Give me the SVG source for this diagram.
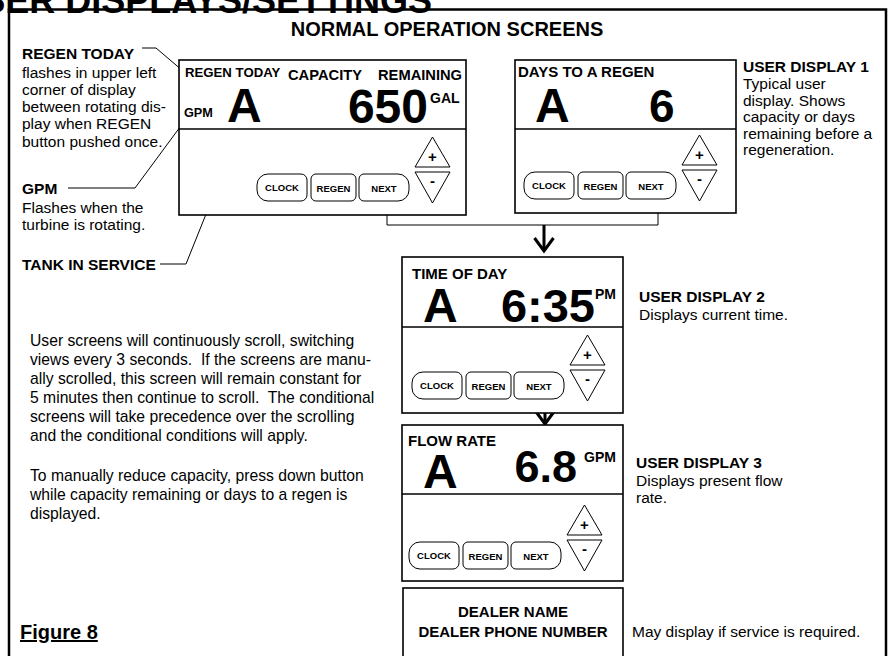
<svg xmlns="http://www.w3.org/2000/svg" width="892" height="656" viewBox="0 0 892 656">
<defs>
<style>
text{font-family:"Liberation Sans",Arial,Helvetica,sans-serif;fill:#000}
.b{font-weight:bold}
.t{font-size:15.5px}
.p{font-size:15.7px;white-space:pre}
.scr{fill:#fff;stroke:#000;stroke-width:1.6}
.btn{fill:#fff;stroke:#000;stroke-width:1}
.bt{font-size:9.5px;font-weight:bold;text-anchor:middle}
.pm{font-size:15px;font-weight:bold;text-anchor:middle}
.big{font-size:48px;font-weight:bold}
.lbl{font-size:15px;font-weight:bold}
.lead{fill:none;stroke:#000;stroke-width:1}
.conn{fill:none;stroke:#000;stroke-width:1}
.arr{fill:none;stroke:#000;stroke-width:3}
</style>
<marker id="chev" markerUnits="userSpaceOnUse" markerWidth="30" markerHeight="30" refX="0" refY="0" orient="auto" overflow="visible">
<path d="M-13,-9.5 L0,0 L-13,9.5" fill="none" stroke="#000" stroke-width="3"/>
</marker>
</defs>
<rect width="892" height="656" fill="#fff"/>
<text x="432" y="13" class="b" font-size="36" text-anchor="end">USER DISPLAYS/SETTINGS</text>
<rect x="9" y="9.5" width="877" height="700" fill="none" stroke="#000" stroke-width="2.5"/>
<text x="447" y="36" class="b" font-size="20" text-anchor="middle">NORMAL OPERATION SCREENS</text>

<g id="note-regen-today">
<text x="22" y="59" class="b t">REGEN TODAY</text>
<text x="22" y="77.5" class="t">flashes in upper left</text>
<text x="22" y="94.5" class="t">corner of display</text>
<text x="22" y="112" class="t">between rotating dis-</text>
<text x="22" y="129" class="t">play when REGEN</text>
<text x="22" y="146.5" class="t">button pushed once.</text>
</g>
<g id="note-gpm">
<text x="22" y="194" class="b t">GPM</text>
<text x="22" y="213" class="t">Flashes when the</text>
<text x="22" y="230" class="t">turbine is rotating.</text>
</g>
<g id="note-tank">
<text x="22" y="270" class="b t">TANK IN SERVICE</text>
</g>
<g id="note-scroll">
<text x="30" y="346" class="p">User screens will continuously scroll, switching</text>
<text x="30" y="365" class="p">views every 3 seconds.  If the screens are manu-</text>
<text x="30" y="384" class="p">ally scrolled, this screen will remain constant for</text>
<text x="30" y="403" class="p">5 minutes then continue to scroll.  The conditional</text>
<text x="30" y="422" class="p">screens will take precedence over the scrolling</text>
<text x="30" y="441" class="p">and the conditional conditions will apply.</text>
<text x="30" y="481" class="p">To manually reduce capacity, press down button</text>
<text x="30" y="500" class="p">while capacity remaining or days to a regen is</text>
<text x="30" y="519" class="p">displayed.</text>
</g>
<text x="20" y="639" class="b" font-size="20" text-decoration="underline">Figure 8</text>

<g id="leaders">
<polyline class="lead" points="142,48 156,48 183,71"/>
<polyline class="lead" points="68,188 135,188 183,123"/>
<polyline class="lead" points="160,264 186,264 239,132"/>
</g>

<g id="connectors">
<polyline class="conn" points="387,201 387,225 658,225 658,199"/>
<line class="arr" x1="544" y1="225" x2="544" y2="251" marker-end="url(#chev)"/>
<line class="arr" x1="545" y1="398" x2="545" y2="424" marker-end="url(#chev)"/>
</g>

<g id="screen-capacity">
<rect class="scr" x="179" y="60" width="287" height="155"/>
<line class="scr" x1="179" y1="129" x2="466" y2="129"/>
<text x="185" y="77" class="b" font-size="13.2">REGEN TODAY</text>
<text x="288" y="80" class="b" font-size="14.7">CAPACITY</text>
<text x="378" y="80" class="b" font-size="14.7">REMAINING</text>
<text x="184" y="117" class="b" font-size="12.7">GPM</text>
<text x="227" y="122" class="big">A</text>
<text x="428" y="123" class="b" font-size="48" text-anchor="end">650</text>
<text x="430" y="103" class="b" font-size="14">GAL</text>
<g transform="translate(257,174)">
<path class="btn" d="M11,0 H44 A6,6 0 0 1 50,6 V21 A6,6 0 0 1 44,27 H11 A11,11 0 0 1 0,16 V11 A11,11 0 0 1 11,0 Z"/>
<rect class="btn" x="54" y="0" width="45" height="27" rx="5"/>
<path class="btn" d="M107,0 H141 A11,11 0 0 1 152,11 V16 A11,11 0 0 1 141,27 H107 A5,5 0 0 1 102,22 V5 A5,5 0 0 1 107,0 Z"/>
<text x="25" y="17" class="bt">CLOCK</text>
<text x="76.5" y="18" class="bt">REGEN</text>
<text x="127" y="18" class="bt">NEXT</text>
<path class="btn" d="M175.5,-37 L193,-7 L158,-7 Z"/>
<path class="btn" d="M158,-2 L193,-2 L175.5,29 Z"/>
<text x="175.5" y="-12" class="pm">+</text>
<text x="175.5" y="12" class="pm">-</text>
</g>
</g>

<g id="screen-days">
<rect class="scr" x="515" y="60" width="221" height="153"/>
<line class="scr" x1="515" y1="129" x2="736" y2="129"/>
<text x="518" y="77" class="lbl">DAYS TO A REGEN</text>
<text x="535" y="122" class="big">A</text>
<text x="649" y="122" class="b" font-size="46">6</text>
<g transform="translate(524,172)">
<path class="btn" d="M11,0 H44 A6,6 0 0 1 50,6 V21 A6,6 0 0 1 44,27 H11 A11,11 0 0 1 0,16 V11 A11,11 0 0 1 11,0 Z"/>
<rect class="btn" x="54" y="0" width="45" height="27" rx="5"/>
<path class="btn" d="M107,0 H141 A11,11 0 0 1 152,11 V16 A11,11 0 0 1 141,27 H107 A5,5 0 0 1 102,22 V5 A5,5 0 0 1 107,0 Z"/>
<text x="25" y="17" class="bt">CLOCK</text>
<text x="76.5" y="18" class="bt">REGEN</text>
<text x="127" y="18" class="bt">NEXT</text>
<path class="btn" d="M175.5,-37 L193,-7 L158,-7 Z"/>
<path class="btn" d="M158,-2 L193,-2 L175.5,29 Z"/>
<text x="175.5" y="-12" class="pm">+</text>
<text x="175.5" y="12" class="pm">-</text>
</g>
</g>
<g id="note-display1">
<text x="743" y="72" class="b t">USER DISPLAY 1</text>
<text x="743" y="89" class="t" font-size="16">Typical user</text>
<text x="743" y="106" class="t" font-size="16">display. Shows</text>
<text x="743" y="122" class="t" font-size="16">capacity or days</text>
<text x="743" y="138.5" class="t" font-size="16">remaining before a</text>
<text x="743" y="155" class="t" font-size="16">regeneration.</text>
</g>

<g id="screen-time">
<rect class="scr" x="402" y="257" width="221" height="156"/>
<line class="scr" x1="402" y1="327" x2="623" y2="327"/>
<text x="412" y="279" class="lbl">TIME OF DAY</text>
<text x="423" y="322" class="big">A</text>
<text x="595" y="322" class="b" font-size="47" text-anchor="end">6:35</text>
<text x="595" y="299" class="b" font-size="14">PM</text>
<g transform="translate(412,372)">
<path class="btn" d="M11,0 H44 A6,6 0 0 1 50,6 V21 A6,6 0 0 1 44,27 H11 A11,11 0 0 1 0,16 V11 A11,11 0 0 1 11,0 Z"/>
<rect class="btn" x="54" y="0" width="45" height="27" rx="5"/>
<path class="btn" d="M107,0 H141 A11,11 0 0 1 152,11 V16 A11,11 0 0 1 141,27 H107 A5,5 0 0 1 102,22 V5 A5,5 0 0 1 107,0 Z"/>
<text x="25" y="17" class="bt">CLOCK</text>
<text x="76.5" y="18" class="bt">REGEN</text>
<text x="127" y="18" class="bt">NEXT</text>
<path class="btn" d="M175.5,-37 L193,-7 L158,-7 Z"/>
<path class="btn" d="M158,-2 L193,-2 L175.5,29 Z"/>
<text x="175.5" y="-12" class="pm">+</text>
<text x="175.5" y="12" class="pm">-</text>
</g>
</g>
<g id="note-display2">
<text x="639" y="302" class="b t">USER DISPLAY 2</text>
<text x="639" y="320" class="t" font-size="16">Displays current time.</text>
</g>

<g id="screen-flow">
<rect class="scr" x="402" y="425" width="221" height="156"/>
<line class="scr" x1="402" y1="494" x2="623" y2="494"/>
<text x="408" y="446" class="lbl">FLOW RATE</text>
<text x="423" y="488" class="big">A</text>
<text x="577" y="482" class="b" font-size="45" text-anchor="end">6.8</text>
<text x="584" y="462" class="b" font-size="14">GPM</text>
<g transform="translate(409,542)">
<path class="btn" d="M11,0 H44 A6,6 0 0 1 50,6 V21 A6,6 0 0 1 44,27 H11 A11,11 0 0 1 0,16 V11 A11,11 0 0 1 11,0 Z"/>
<rect class="btn" x="54" y="0" width="45" height="27" rx="5"/>
<path class="btn" d="M107,0 H141 A11,11 0 0 1 152,11 V16 A11,11 0 0 1 141,27 H107 A5,5 0 0 1 102,22 V5 A5,5 0 0 1 107,0 Z"/>
<text x="25" y="17" class="bt">CLOCK</text>
<text x="76.5" y="18" class="bt">REGEN</text>
<text x="127" y="18" class="bt">NEXT</text>
<path class="btn" d="M175.5,-37 L193,-7 L158,-7 Z"/>
<path class="btn" d="M158,-2 L193,-2 L175.5,29 Z"/>
<text x="175.5" y="-12" class="pm">+</text>
<text x="175.5" y="12" class="pm">-</text>
</g>
</g>
<g id="note-display3">
<text x="636" y="468" class="b t">USER DISPLAY 3</text>
<text x="636" y="486" class="t" font-size="16">Displays present flow</text>
<text x="636" y="503" class="t" font-size="16">rate.</text>
</g>

<g id="screen-dealer">
<rect class="scr" x="403" y="588" width="220" height="100"/>
<text x="513" y="617" class="lbl" font-size="15.6" text-anchor="middle">DEALER NAME</text>
<text x="513" y="637" class="lbl" font-size="15.6" text-anchor="middle">DEALER PHONE NUMBER</text>
</g>
<g id="note-dealer">
<text x="632" y="637" class="t" font-size="14.5">May display if service is required.</text>
</g>
</svg>
